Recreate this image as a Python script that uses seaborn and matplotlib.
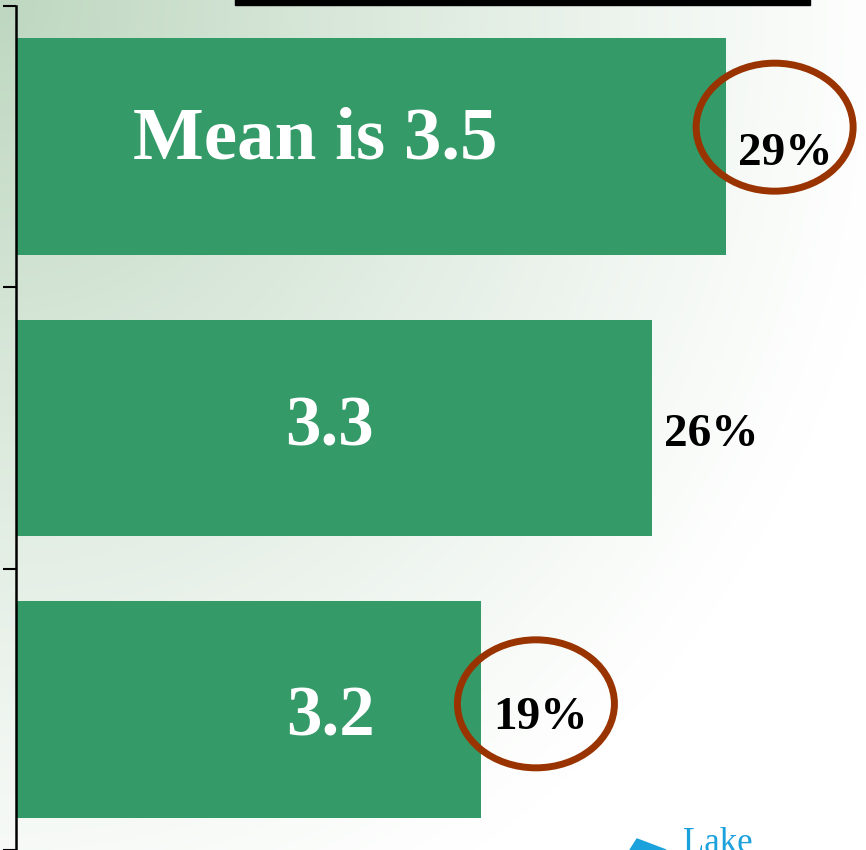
import numpy as np
import pandas as pd
import matplotlib
matplotlib.use("Agg")
import matplotlib.pyplot as plt
import seaborn as sns
from matplotlib.patches import Ellipse, Rectangle, Polygon

# Data
rows = ["top", "middle", "bottom"]
share_pct = [29, 26, 19]
mean_labels = ["Mean is 3.5", "3.3", "3.2"]
circled = [True, False, True]

W, H = 866, 850
PX_X = 24.47      # pixels per percent
PX_Y = 281.3      # pixels per category

sns.set_style("white")
plt.rcParams["font.family"] = ["Liberation Serif", "DejaVu Serif"]

fig = plt.figure(figsize=(W / 100, H / 100), dpi=100)

# background gradient, greenish in the top-left corner fading to white
bg = fig.add_axes([0, 0, 1, 1], zorder=-10)
yy, xx = np.mgrid[0:H, 0:W]
w = np.clip(1 - np.sqrt((xx / 900) ** 2 + (yy / 1000) ** 2), 0, 1) ** 1.1
green = np.array([190, 215, 192]) / 255
img = 1 - w[..., None] * (1 - green)
bg.imshow(img, aspect="auto", extent=[0, 1, 0, 1])
bg.axis("off")

ax = fig.add_axes([16 / W, 0, (W - 16) / W, (H - 6) / H])
ax.patch.set_alpha(0)

df = pd.DataFrame({"row": rows, "pct": share_pct})
sns.barplot(data=df, x="pct", y="row", orient="h", color="#349A68",
            saturation=1, width=0.77, linewidth=0, edgecolor="none", ax=ax)

ax.set_xlim(0, (W - 16) / PX_X)
ax.set_ylim(len(rows) - 0.5, -0.5)
ax.set_yticks(np.arange(len(rows) + 1) - 0.5)
ax.set_yticklabels([])
ax.set_xticks([])
ax.set_xlabel("")
ax.set_ylabel("")
for s in ["top", "right", "bottom"]:
    ax.spines[s].set_visible(False)
ax.spines["left"].set_color("black")
ax.spines["left"].set_linewidth(1.8)
ax.tick_params(axis="y", left=True, length=9.5, width=1.5, color="black",
               direction="out")

# labels inside bars (white) and percentages to the right (black)
inner_x = [315, 330, 330]
inner_base = [-12, -17, -26]
inner_size = [54, 51, 51]
for i, (lab, p) in enumerate(zip(mean_labels, share_pct)):
    ax.annotate(lab, xy=((inner_x[i] - 16) / PX_X, i), xytext=(0, inner_base[i]),
                textcoords="offset pixels", ha="center", va="baseline",
                color="white", fontsize=inner_size[i], fontweight="bold")
    ax.annotate(f"{p}%", xy=(p, i), xytext=(12, -18 - (2 if i == 2 else 0)),
                textcoords="offset pixels", ha="left", va="baseline",
                color="black", fontsize=34, fontweight="bold")
    if circled[i]:
        dx = 49 if i == 0 else 55
        dy = -19.5 if i == 0 else -5.5
        ax.add_patch(Ellipse((p + dx / PX_X, i + dy / PX_Y),
                             width=157 / PX_X, height=128 / PX_Y,
                             fill=False, edgecolor="#993300", linewidth=5,
                             clip_on=False, zorder=5))

# cut-off title underline at the top
fig.patches.append(Rectangle((235 / W, 1 - 5 / H), 575 / W, 6 / H,
                             transform=fig.transFigure, color="black"))

# cut-off blue callout at bottom right
fig.patches.append(Polygon([(630 / W, 0), (637 / W, 11 / H), (666 / W, 0)],
                           closed=True, transform=fig.transFigure, color="#1BA1DB"))
fig.text(683 / W, -2 / H, "Lake", color="#1BA1DB", fontsize=25,
         ha="left", va="baseline")

fig.savefig("out.png", dpi=100)
